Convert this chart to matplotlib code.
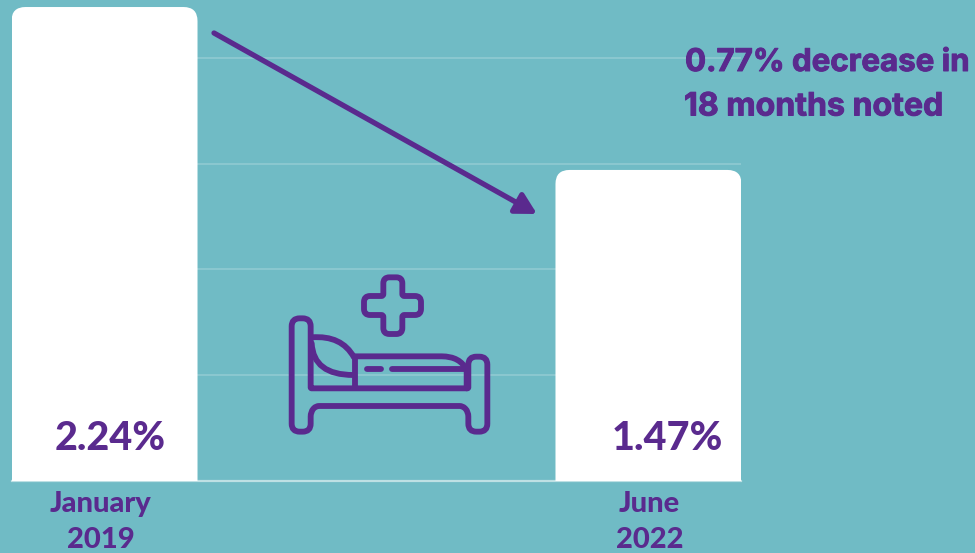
import matplotlib
matplotlib.use('Agg')
import matplotlib.pyplot as plt
import numpy as np
from matplotlib.path import Path
from matplotlib.patches import PathPatch
import matplotlib.patheffects as pe

periods = ['January\n2019', 'June\n2022']
rates = [2.24, 1.47]
rate_labels = ['2.24%', '1.47%']
grid_values = [0.5, 1.0, 1.5, 2.0]
note_lines = ['0.77% decrease in', '18 months noted']

BG = '#70BBC5'
PURPLE = '#5A2A8E'
W, H = 975, 553


def rounded_path(points, r):
    # closed polyline with quadratic corners, each point can carry its own radius
    pts = [np.array(p[:2], float) for p in points]
    rads = [p[2] if len(p) > 2 else r for p in points]
    verts, codes = [], []
    n = len(pts)
    for i in range(n):
        p = pts[i]
        a = pts[i - 1] - p
        b = pts[(i + 1) % n] - p
        ra = min(rads[i], np.linalg.norm(a) / 2)
        rb = min(rads[i], np.linalg.norm(b) / 2)
        start = p + a / np.linalg.norm(a) * ra
        end = p + b / np.linalg.norm(b) * rb
        verts += [start, p, end]
        codes += [Path.MOVETO if i == 0 else Path.LINETO, Path.CURVE3, Path.CURVE3]
    verts.append(verts[0])
    codes.append(Path.CLOSEPOLY)
    return Path(verts, codes)


plt.rcParams['font.family'] = ['Lato', 'DejaVu Sans']
fig = plt.figure(figsize=(W / 100, H / 100), dpi=100, facecolor=BG)

# chart area runs from the left bar edge to the end of the gridlines
ax = fig.add_axes([12 / W, (H - 481) / H, 729 / W, 481 / H])
ax.set_facecolor('none')
ax.set_xlim(-0.17, 1.17)
ax.set_ylim(0, 481 / 211.6)
for s in ax.spines.values():
    s.set_visible(False)
ax.set_xticks([])
ax.set_yticks([])

for g in grid_values:
    ax.axhline(g, color='white', alpha=0.22, lw=1.2, zorder=1)
ax.axhline(0, color='white', alpha=0.55, lw=1.6, zorder=1, clip_on=False)

x = np.arange(len(rates))
bars = ax.bar(x, rates, width=0.342, color='white', zorder=2)
# swap the square bars for ones with rounded top corners
rx = 14 / 543.5
ry = 14 / 211.6
for rect in bars:
    x0, x1 = rect.get_x(), rect.get_x() + rect.get_width()
    h = rect.get_height()
    rect.set_visible(False)
    verts = [(x0, 0), (x0, h - ry), (x0, h), (x0 + rx, h), (x1 - rx, h), (x1, h), (x1, h - ry), (x1, 0), (x0, 0)]
    codes = [Path.MOVETO, Path.LINETO, Path.CURVE3, Path.CURVE3, Path.LINETO, Path.CURVE3, Path.CURVE3, Path.LINETO, Path.CLOSEPOLY]
    ax.add_patch(PathPatch(Path(verts, codes), fc='white', ec='none', zorder=2))

offs = [6, 19]
for i, lab in enumerate(rate_labels):
    ax.annotate(lab, (x[i], 0), xytext=(offs[i] * 0.72, 43 * 0.72), textcoords='offset points',
                ha='center', va='center', color=PURPLE, fontsize=28.5, fontweight='black', zorder=3)
name_offs = [-4, 1]
for i, lab in enumerate(periods):
    ax.annotate(lab, (x[i], 0), xytext=(name_offs[i] * 0.72, -41 * 0.72), textcoords='offset points',
                ha='center', va='center', color=PURPLE, fontsize=21, fontweight='black',
                linespacing=1.45, annotation_clip=False)

# overlay in reference pixels for the arrow, icon and note
ov = fig.add_axes([0, 0, 1, 1])
ov.set_xlim(0, W)
ov.set_ylim(H, 0)
ov.axis('off')
ov.patch.set_alpha(0)

ov.annotate('', xy=(537, 214), xytext=(214, 33),
            arrowprops=dict(arrowstyle='-|>,head_length=0.62,head_width=0.34', mutation_scale=20,
                            color=PURPLE, lw=3.8, shrinkA=0, shrinkB=0, joinstyle='round'))

thick = [pe.withStroke(linewidth=0.7, foreground=PURPLE)]
ov.text(685, 63, note_lines[0], color=PURPLE, fontsize=22.5, fontweight='bold',
        family=['Inter', 'DejaVu Sans'], va='center', ha='left', path_effects=thick)
ov.text(684, 107, note_lines[1], color=PURPLE, fontsize=23.1, fontweight='bold',
        family=['Inter', 'DejaVu Sans'], va='center', ha='left', path_effects=thick)


def z(pts):
    return [(270 + p[0] / 3, 260 + p[1] / 3) + tuple(p[2:]) for p in pts]


icon = dict(fc='none', ec=PURPLE, lw=4.2, capstyle='round', joinstyle='round', zorder=5)

cross = [(340, 52), (397, 52), (397, 108, 2), (453, 108), (453, 165), (397, 165, 2), (397, 222),
         (340, 222), (340, 165, 2), (282, 165), (282, 108), (340, 108, 2)]
ov.add_patch(PathPatch(rounded_path(z(cross), 6), **icon))

frame = [(65, 175), (122, 175), (122, 385, 1), (595, 385, 1), (595, 290), (652, 290),
         (652, 515), (595, 515), (595, 455, 5), (578, 438, 3), (138, 438, 3), (122, 455, 5), (122, 515), (65, 515)]
ov.add_patch(PathPatch(rounded_path(z(frame), 8), **icon))

pillow_top = Path(z([(125, 232), (215, 225), (252, 292)]), [Path.MOVETO, Path.CURVE3, Path.CURVE3])
pillow_low = Path(z([(125, 250), (130, 345), (250, 345)]), [Path.MOVETO, Path.CURVE3, Path.CURVE3])
ov.add_patch(PathPatch(pillow_top, **icon))
ov.add_patch(PathPatch(pillow_low, **icon))
ov.add_patch(PathPatch(Path(z([(254, 292), (254, 385)])), **icon))

mattress = Path(z([(254, 289), (515, 289), (570, 289), (590, 330), (590, 385)]),
                [Path.MOVETO, Path.LINETO, Path.CURVE3, Path.CURVE3, Path.LINETO])
ov.add_patch(PathPatch(mattress, **icon))
ov.add_patch(PathPatch(Path(z([(290, 326), (332, 326)])), **icon))
ov.add_patch(PathPatch(Path(z([(367, 326), (590, 326)])), **icon))

fig.savefig('out.png', dpi=100, facecolor=BG)
